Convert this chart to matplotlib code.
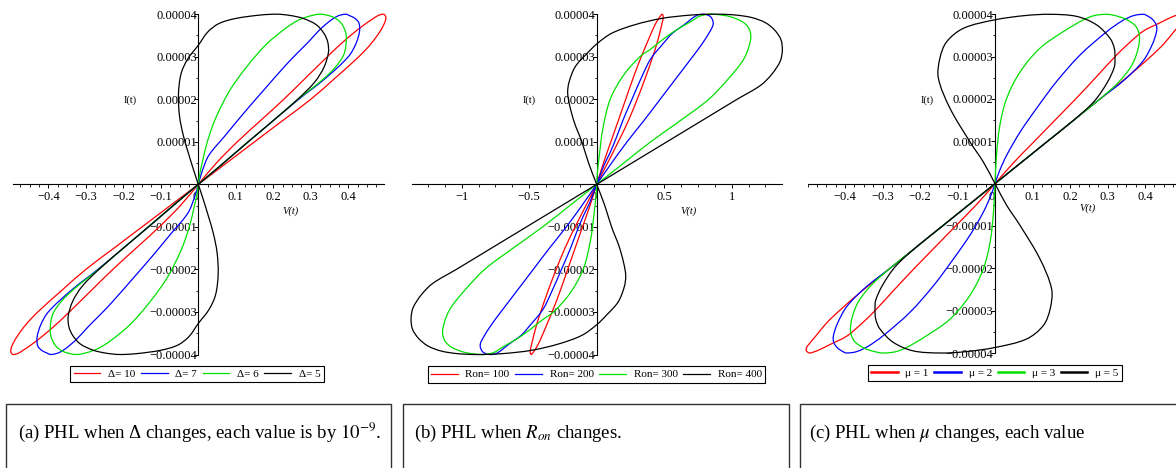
import matplotlib
matplotlib.use("Agg")
import matplotlib.pyplot as plt
from matplotlib.patches import Rectangle, PathPatch
from matplotlib.path import Path
from matplotlib.lines import Line2D
from matplotlib.ticker import MultipleLocator
import numpy as np

plt.rcParams['font.family'] = ['Liberation Serif', 'DejaVu Serif']
plt.rcParams['mathtext.fontset'] = 'stix'

# ---------------- data (V in volts, I in units of 1e-5 A) ----------------
# Each list traces the upper lobe of a loop: origin -> outer branch -> tip -> inner branch -> origin.
# The lower lobe is the point reflection of the upper one.
I_UNIT = 1e-5

# Panel (a): Delta changes
A_D10_V = [0, 0.075, 0.15, 0.225, 0.3, 0.365, 0.428, 0.46, 0.485, 0.497, 0.5, 0.499, 0.494,
           0.48, 0.467, 0.45, 0.42, 0.38, 0.344, 0.286, 0.228, 0.166, 0.104, 0.048, 0]
A_D10_I = [0, 0.5, 1, 1.5, 2, 2.5, 3, 3.3, 3.6, 3.8, 3.9, 3.96, 4.0,
           3.97, 3.9, 3.8, 3.6, 3.3, 3.0, 2.5, 2.0, 1.5, 1.0, 0.5, 0]
A_D7_V = [0, 0.067, 0.133, 0.2, 0.268, 0.34, 0.4, 0.42, 0.43, 0.428, 0.418, 0.405, 0.393,
          0.37, 0.345, 0.32, 0.295, 0.26, 0.233, 0.171, 0.117, 0.073, 0.028, 0.01, 0]
A_D7_I = [0, 0.5, 1, 1.5, 2, 2.5, 3, 3.3, 3.6, 3.8, 3.9, 3.96, 4.0,
          3.95, 3.8, 3.6, 3.36, 3.05, 2.8, 2.18, 1.63, 1.16, 0.68, 0.3, 0]
A_D6_V = [0, 0.067, 0.133, 0.2, 0.266, 0.33, 0.365, 0.388, 0.395, 0.392, 0.38, 0.36, 0.326,
          0.295, 0.265, 0.233, 0.18, 0.126, 0.082, 0.046, 0.024, 0.011, 0.004, 0]
A_D6_I = [0, 0.5, 1, 1.5, 2, 2.45, 2.75, 3.05, 3.4, 3.6, 3.8, 3.93, 4.0,
          3.95, 3.85, 3.67, 3.28, 2.73, 2.18, 1.55, 1.0, 0.53, 0.25, 0]
A_D5_V = [0, 0.067, 0.133, 0.2, 0.265, 0.31, 0.335, 0.347, 0.345, 0.335, 0.315, 0.28, 0.245, 0.21,
          0.165, 0.1, 0.055, 0.025, 0.0, -0.028, -0.046, -0.053, -0.05, -0.04, -0.027, -0.013, 0]
A_D5_I = [0, 0.5, 1, 1.5, 2, 2.4, 2.75, 3.1, 3.35, 3.55, 3.75, 3.9, 3.97, 4.0,
          3.98, 3.9, 3.78, 3.58, 3.27, 2.95, 2.6, 2.1, 1.6, 1.15, 0.75, 0.35, 0]
A_LABELS = ['Δ= 10', 'Δ= 7', 'Δ= 6', 'Δ= 5']

# Panel (b): Ron changes
B_R100_V = [0, 0.08, 0.16, 0.235, 0.3, 0.36, 0.415, 0.445, 0.47, 0.485, 0.492, 0.492, 0.485,
            0.475, 0.46, 0.44, 0.41, 0.37, 0.33, 0.27, 0.215, 0.16, 0.105, 0.05, 0]
B_R100_I = [0, 0.5, 1, 1.5, 2, 2.5, 3, 3.3, 3.6, 3.8, 3.9, 3.96, 4.0,
            3.97, 3.9, 3.8, 3.6, 3.3, 3.0, 2.5, 2.0, 1.5, 1.0, 0.5, 0]
B_R200_V = [0, 0.11, 0.225, 0.35, 0.47, 0.59, 0.71, 0.78, 0.84, 0.862, 0.86, 0.84, 0.795,
            0.74, 0.647, 0.56, 0.49, 0.4, 0.33, 0.264, 0.2, 0.153, 0.1, 0.054, 0]
B_R200_I = [0, 0.5, 1, 1.5, 2, 2.5, 3, 3.3, 3.6, 3.75, 3.85, 3.95, 4.0,
            3.97, 3.75, 3.55, 3.3, 2.95, 2.5, 2.02, 1.55, 1.16, 0.75, 0.45, 0]
B_R300_V = [0, 0.2, 0.4, 0.62, 0.83, 0.98, 1.09, 1.14, 1.13, 1.08, 0.99, 0.9, 0.83,
            0.76, 0.7, 0.6, 0.5, 0.4, 0.32, 0.2, 0.1, 0.045, 0.02, 0.006, 0]
B_R300_I = [0, 0.5, 1, 1.5, 2, 2.5, 2.95, 3.4, 3.65, 3.82, 3.94, 3.99, 4.0,
            3.95, 3.83, 3.65, 3.43, 3.18, 3.0, 2.57, 2.0, 1.3, 0.7, 0.3, 0]
B_R400_V = [0, 0.26, 0.52, 0.78, 1.04, 1.215, 1.3, 1.36, 1.375, 1.365, 1.32, 1.25, 1.15, 1.03, 0.89,
            0.7, 0.48, 0.28, 0.11, 0.0, -0.08, -0.16, -0.205, -0.215, -0.2, -0.165, -0.11, -0.06, 0]
B_R400_I = [0, 0.5, 1, 1.5, 2, 2.33, 2.6, 2.9, 3.15, 3.4, 3.62, 3.8, 3.92, 3.98, 4.0,
            3.98, 3.9, 3.75, 3.55, 3.3, 3.05, 2.76, 2.4, 2.15, 1.85, 1.45, 1.0, 0.5, 0]
B_LABELS = ['Ron= 100', 'Ron= 200', 'Ron= 300', 'Ron= 400']

# Panel (c): mu changes
C_M1_V = [0, 0.07, 0.14, 0.21, 0.28, 0.35, 0.415, 0.45, 0.478, 0.495, 0.503, 0.503, 0.495,
          0.485, 0.47, 0.44, 0.395, 0.355, 0.32, 0.268, 0.215, 0.16, 0.105, 0.05, 0]
C_M1_I = [0, 0.5, 1, 1.5, 2, 2.5, 3, 3.3, 3.6, 3.78, 3.88, 3.95, 4.0,
          3.98, 3.93, 3.8, 3.6, 3.3, 3.0, 2.5, 2.0, 1.5, 1.0, 0.5, 0]
C_M2_V = [0, 0.07, 0.14, 0.21, 0.28, 0.345, 0.395, 0.42, 0.431, 0.43, 0.42, 0.405, 0.396,
          0.37, 0.34, 0.298, 0.227, 0.164, 0.111, 0.067, 0.031, 0.012, 0]
C_M2_I = [0, 0.5, 1, 1.5, 2, 2.45, 2.9, 3.3, 3.6, 3.75, 3.88, 3.97, 4.0,
          3.97, 3.85, 3.59, 3.04, 2.41, 1.78, 1.22, 0.67, 0.3, 0]
C_M3_V = [0, 0.07, 0.14, 0.21, 0.28, 0.33, 0.365, 0.382, 0.385, 0.375, 0.35, 0.32, 0.298,
          0.265, 0.236, 0.182, 0.12, 0.067, 0.031, 0.013, 0.004, 0]
C_M3_I = [0, 0.5, 1, 1.5, 2, 2.4, 2.8, 3.2, 3.5, 3.72, 3.88, 3.97, 4.0,
          3.97, 3.87, 3.59, 3.2, 2.64, 2.01, 1.38, 0.67, 0]
C_M5_V = [0, 0.07, 0.14, 0.21, 0.265, 0.3, 0.318, 0.32, 0.318, 0.307, 0.271, 0.218, 0.147,
          0.08, 0.0, -0.084, -0.129, -0.147, -0.151, -0.12, -0.067, -0.031, 0]
C_M5_I = [0, 0.5, 1, 1.5, 1.95, 2.4, 2.75, 2.96, 3.2, 3.43, 3.75, 3.95, 4.0,
          3.97, 3.87, 3.67, 3.35, 2.96, 2.49, 1.78, 0.99, 0.51, 0]
C_LABELS = ['μ = 1', 'μ = 2', 'μ = 3', 'μ = 5']

# Tick values / labels
Y_TICKS = [-4, -3, -2, -1, 1, 2, 3, 4]
Y_TICK_LABELS = ['−0.00004', '−0.00003', '−0.00002', '−0.00001',
                 '0.00001', '0.00002', '0.00003', '0.00004']
AC_X_TICKS = [-0.4, -0.3, -0.2, -0.1, 0, 0.1, 0.2, 0.3, 0.4]
AC_X_LABELS = ['−0.4', '−0.3', '−0.2', '−0.1', '0', '0.1', '0.2', '0.3', '0.4']
B_X_TICKS = [-1, -0.5, 0, 0.5, 1]
B_X_LABELS = ['−1', '−0.5', '0', '0.5', '1']

CAPTION_A = '(a) PHL when Δ changes, each value is by $10^{-9}$.'
CAPTION_B = '(b) PHL when $R_{on}$ changes.'
CAPTION_C = '(c) PHL when $\\mu$ changes, each value'

COLORS = ['#ff0000', '#0000ff', '#00e000', '#000000']

# ---------------- figure ----------------
W, H = 1176, 468
fig = plt.figure(figsize=(W / 100, H / 100), dpi=100)
fig.patch.set_facecolor('white')


def px_axes(left, right, top, bottom):
    return fig.add_axes([left / W, 1 - bottom / H, (right - left) / W, (bottom - top) / H])


def style_axes(ax, xlim, xticks, xlabels, xminor):
    ax.set_xlim(*xlim)
    ax.set_ylim(-4 * I_UNIT, 4 * I_UNIT)
    ax.patch.set_alpha(0)
    for s in ('top', 'right'):
        ax.spines[s].set_visible(False)
    ax.spines['left'].set_position(('data', 0))
    ax.spines['bottom'].set_position(('data', 0))
    for s in ('left', 'bottom'):
        ax.spines[s].set_linewidth(0.8)
        ax.spines[s].set_zorder(1)
    ax.set_yticks([t * I_UNIT for t in Y_TICKS], Y_TICK_LABELS)
    ax.yaxis.set_minor_locator(MultipleLocator(0.5 * I_UNIT))
    ax.set_xticks(xticks, xlabels)
    ax.xaxis.set_minor_locator(MultipleLocator(xminor))
    ax.tick_params(axis='x', which='major', direction='out', length=3, width=0.7,
                   labelsize=9, pad=2)
    ax.tick_params(axis='x', which='minor', direction='out', length=1.8, width=0.6)
    ax.tick_params(axis='y', which='major', direction='out', length=3, width=0.7,
                   labelsize=9, pad=-2)
    ax.tick_params(axis='y', which='minor', direction='out', length=1.8, width=0.6)
    for lbl in ax.get_xticklabels():
        if lbl.get_text() == '0':
            lbl.set_horizontalalignment('right')


def smooth_segments(px, py):
    """Cubic Bezier control points of a chord-length Catmull-Rom curve through the points."""
    p = np.column_stack([px, py])
    n = len(p)
    d = np.linalg.norm(np.diff(p, axis=0), axis=1)
    d[d == 0] = 1e-9
    m = np.zeros_like(p)
    m[0] = (p[1] - p[0]) / d[0]
    m[-1] = (p[-1] - p[-2]) / d[-1]
    for k in range(1, n - 1):
        m[k] = (p[k + 1] - p[k - 1]) / (d[k - 1] + d[k])
    verts = [p[0]]
    codes = [Path.MOVETO]
    for k in range(n - 1):
        verts += [p[k] + m[k] * d[k] / 3, p[k + 1] - m[k + 1] * d[k] / 3, p[k + 1]]
        codes += [Path.CURVE4] * 3
    return np.array(verts), codes


def draw_loops(ax, series, lw=0.9):
    fig.canvas.draw_idle()
    # pixel scale of each data unit, to smooth in screen space
    bb = ax.get_position()
    x0, x1 = ax.get_xlim()
    y0, y1 = ax.get_ylim()
    sx = bb.width * W / (x1 - x0)
    sy = bb.height * H / (y1 - y0)
    for (v, i), col in zip(series, COLORS):
        v = np.asarray(v, dtype=float)
        i = np.asarray(i, dtype=float) * I_UNIT
        all_verts, all_codes = [], []
        for sgn in (1, -1):
            verts, codes = smooth_segments(sgn * v * sx, sgn * i * sy)
            verts = verts / np.array([sx, sy])
            all_verts.append(verts)
            all_codes += codes
        path = Path(np.vstack(all_verts), all_codes)
        ax.add_patch(PathPatch(path, fill=False, edgecolor=col, lw=lw, clip_on=False,
                               zorder=3, joinstyle='round', capstyle='round'))


ax_a = px_axes(13.05, 383.55, 14.2, 354.5)
ax_b = px_axes(411.75, 781.65, 14.2, 354.5)
ax_c = px_axes(807.5, 1182.5, 14.3, 353.0)

style_axes(ax_a, (-0.494, 0.494), AC_X_TICKS, AC_X_LABELS, 0.025)
style_axes(ax_b, (-1.37, 1.37), B_X_TICKS, B_X_LABELS, 0.125)
style_axes(ax_c, (-0.5, 0.5), AC_X_TICKS, AC_X_LABELS, 0.025)

draw_loops(ax_a, [(A_D10_V, A_D10_I), (A_D7_V, A_D7_I), (A_D6_V, A_D6_I), (A_D5_V, A_D5_I)])
draw_loops(ax_b, [(B_R100_V, B_R100_I), (B_R200_V, B_R200_I), (B_R300_V, B_R300_I),
                  (B_R400_V, B_R400_I)])
draw_loops(ax_c, [(C_M1_V, C_M1_I), (C_M2_V, C_M2_I), (C_M3_V, C_M3_I), (C_M5_V, C_M5_I)])

# axis labels
for x_px, y_px in [(130.5, 100.5), (529, 100.5), (927, 100.5)]:
    fig.text(x_px / W, 1 - y_px / H, 'I(t)', ha='center', va='center', fontsize=7.5)
for x_px, y_px in [(291, 211), (689, 211), (1088, 208)]:
    fig.text(x_px / W, 1 - y_px / H, 'V(t)', ha='center', va='center', fontsize=7.5,
             style='italic')


def add_legend(ax, labels, cx, cy, lw):
    handles = [Line2D([], [], color=c, lw=lw) for c in COLORS]
    leg = ax.legend(handles, labels, loc='center', bbox_to_anchor=(cx / W, 1 - cy / H),
                    bbox_transform=fig.transFigure, ncol=4, fontsize=8,
                    handlelength=2.4, handletextpad=0.7, columnspacing=0.5,
                    borderpad=0.3, fancybox=False, frameon=True, edgecolor='black',
                    framealpha=1, borderaxespad=0)
    leg.get_frame().set_linewidth(0.8)
    return leg


add_legend(ax_a, A_LABELS, 197, 374.2, 0.9)
add_legend(ax_b, B_LABELS, 596.3, 374.5, 0.9)
add_legend(ax_c, C_LABELS, 994.7, 373.0, 1.8)

# caption boxes
for x0, x1 in [(5.5, 391), (403, 788.5), (800, 1190)]:
    fig.add_artist(Rectangle((x0 / W, 1 - 480 / H), (x1 - x0) / W, (480 - 404) / H,
                             transform=fig.transFigure, fill=False,
                             edgecolor='#333333', lw=1.0))
for x_px, txt in [(18.3, CAPTION_A), (414.5, CAPTION_B), (809, CAPTION_C)]:
    fig.text(x_px / W, 1 - 438 / H, txt, ha='left', va='baseline', fontsize=13.5)

fig.savefig('out.png', dpi=100, facecolor='white')
